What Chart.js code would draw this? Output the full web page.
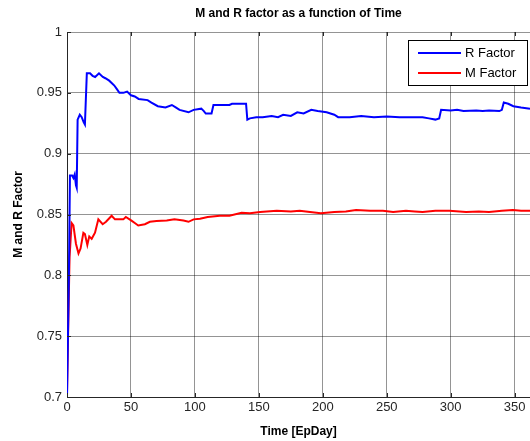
<!DOCTYPE html>
<html>
<head>
<meta charset="utf-8">
<script src="https://cdn.jsdelivr.net/npm/chart.js@4"></script>
<style>
    html, body { margin: 0; padding: 0; background: #fff; overflow: hidden; }
    #chartContainer { display: block; }
</style>
</head>
<body>
<canvas id="chartContainer" width="530" height="441"></canvas>
<script>
// R factor (time in EpDay, value)
const rTime = [0, 1.5, 2.3, 4, 5, 6, 7, 7.6, 8.3, 10, 11.5, 13, 14, 15.5, 18, 20, 22, 25, 28, 30,
    33, 37, 39, 41, 44, 47, 50, 53, 56, 63, 66, 71, 77, 82, 85, 88, 95, 99, 105, 107,
    108.5, 113, 114.5, 127, 129, 140, 141, 143, 148, 153, 160, 165, 169, 175, 180, 185, 191, 196, 203, 209,
    212, 221, 230, 240, 250, 260, 270, 278, 283, 288, 291, 292.5, 300, 305, 310, 320, 325, 330, 338, 340,
    341.5, 345, 349, 355, 362];
const rFactor = [0.700, 0.800, 0.882, 0.882, 0.880, 0.883, 0.874, 0.872, 0.928, 0.932, 0.930, 0.926, 0.924, 0.966, 0.966, 0.964, 0.963, 0.966, 0.963, 0.962,
    0.960, 0.956, 0.953, 0.950, 0.950, 0.951, 0.948, 0.947, 0.945, 0.944, 0.942, 0.939, 0.938, 0.940, 0.938, 0.936, 0.934, 0.936, 0.937, 0.935,
    0.933, 0.933, 0.940, 0.940, 0.941, 0.941, 0.928, 0.929, 0.930, 0.930, 0.931, 0.930, 0.932, 0.931, 0.934, 0.933, 0.936, 0.935, 0.934, 0.932,
    0.930, 0.930, 0.931, 0.930, 0.9305, 0.930, 0.930, 0.930, 0.929, 0.928, 0.929, 0.936, 0.9355, 0.936, 0.935, 0.9355, 0.935, 0.9355, 0.935, 0.936,
    0.942, 0.941, 0.939, 0.938, 0.937];

// M factor
const mTime = [0, 1, 2, 3.6, 5, 7, 9, 10.6, 12.8, 14, 15.9, 17.4, 19.3, 21.9, 24.5, 27.9, 30.5, 34.9, 37.5, 44,
    46, 50.4, 53, 55.7, 60.9, 64.8, 70, 78, 84, 91, 95, 99, 104, 110, 119.5, 127, 136.5, 143, 151, 164,
    175, 182, 190, 198.5, 209, 218, 226, 237, 247, 255, 265, 272, 278, 288, 299, 312, 322, 330, 340, 348.6,
    355, 362];
const mFactor = [0.703, 0.760, 0.815, 0.843, 0.841, 0.826, 0.818, 0.822, 0.835, 0.834, 0.825, 0.832, 0.830, 0.835, 0.846, 0.842, 0.844, 0.849, 0.846, 0.846,
    0.848, 0.845, 0.843, 0.841, 0.842, 0.844, 0.8446, 0.845, 0.846, 0.845, 0.844, 0.846, 0.8465, 0.848, 0.849, 0.849, 0.8515, 0.851, 0.852, 0.853,
    0.8525, 0.853, 0.852, 0.851, 0.852, 0.8525, 0.8537, 0.853, 0.853, 0.852, 0.853, 0.8525, 0.852, 0.853, 0.853, 0.852, 0.8525, 0.852, 0.853, 0.8537,
    0.853, 0.853];

const seriesLabels = ['R Factor', 'M Factor'];
const xTicks = [0, 50, 100, 150, 200, 250, 300, 350];
const yTickStep = 0.05;

const blueColor = '#0000ff';
const redColor = '#ff0000';
const fontFamily = '"Liberation Sans", Arial, sans-serif';

function toPoints(xs, ys) {
    return xs.map((x, i) => ({ x: x, y: ys[i] }));
}

// matlab style: ticks pointing inward + legend box inside the axes
const matlabAxes = {
    id: 'matlabAxes',
    afterDraw(chart) {
        const ctx = chart.ctx;
        const area = chart.chartArea;
        const xs = chart.scales.x;
        const ys = chart.scales.y;
        ctx.save();
        ctx.strokeStyle = '#262626';
        ctx.lineWidth = 1;
        ctx.beginPath();
        xs.ticks.forEach(t => {
            const px = Math.round(xs.getPixelForValue(t.value)) + 0.5;
            ctx.moveTo(px, area.bottom); ctx.lineTo(px, area.bottom - 4);
            ctx.moveTo(px, area.top); ctx.lineTo(px, area.top + 4);
        });
        ys.ticks.forEach(t => {
            const py = Math.round(ys.getPixelForValue(t.value)) + 0.5;
            ctx.moveTo(area.left, py); ctx.lineTo(area.left + 4, py);
        });
        ctx.stroke();

        // legend
        const bx = area.right - 122, by = area.top + 8, bw = 119, bh = 45;
        ctx.fillStyle = '#fff';
        ctx.fillRect(bx, by, bw, bh);
        ctx.strokeStyle = '#000';
        ctx.strokeRect(bx + 0.5, by + 0.5, bw, bh);
        ctx.font = '13px ' + fontFamily;
        ctx.textBaseline = 'middle';
        chart.data.datasets.forEach((ds, i) => {
            const ly = by + 13 + i * 20;
            ctx.strokeStyle = ds.borderColor;
            ctx.lineWidth = 2;
            ctx.beginPath();
            ctx.moveTo(bx + 10, ly); ctx.lineTo(bx + 53, ly);
            ctx.stroke();
            ctx.fillStyle = '#000';
            ctx.fillText(ds.label, bx + 57, ly);
        });
        ctx.restore();
    }
};

const chartContainer = document.getElementById('chartContainer');
const chart = new Chart(chartContainer, {
    type: 'line',
    data: {
        datasets: [
            {
                label: seriesLabels[0],
                data: toPoints(rTime, rFactor),
                borderColor: blueColor,
                borderWidth: 2,
                pointRadius: 0,
                tension: 0,
                fill: false
            },
            {
                label: seriesLabels[1],
                data: toPoints(mTime, mFactor),
                borderColor: redColor,
                borderWidth: 2,
                pointRadius: 0,
                tension: 0,
                fill: false
            }
        ]
    },
    options: {
        responsive: false,
        animation: false,
        devicePixelRatio: 1,
        layout: { padding: { left: 0, right: 0, top: 0, bottom: 0 } },
        plugins: {
            legend: { display: false },
            tooltip: { enabled: false },
            title: {
                display: true,
                text: 'M and R factor as a function of Time',
                fullSize: false,
                color: '#000',
                font: { family: fontFamily, size: 12, weight: 'bold' },
                padding: { top: 6, bottom: 11.6 }
            }
        },
        scales: {
            x: {
                type: 'linear',
                min: 0,
                max: 362,
                afterBuildTicks: s => { s.ticks = xTicks.map(v => ({ value: v })); },
                afterFit: s => { s.height = 44; s.paddingRight = 0; },
                ticks: {
                    padding: 3,
                    color: '#262626',
                    font: { family: fontFamily, size: 13 },
                    maxRotation: 0
                },
                grid: { color: 'rgba(0,0,0,0.42)', drawTicks: false },
                border: { color: '#262626', width: 1 },
                title: {
                    display: true,
                    text: 'Time [EpDay]',
                    color: '#000',
                    font: { family: fontFamily, size: 12, weight: 'bold' },
                    padding: { top: 0, bottom: 2 }
                }
            },
            y: {
                min: 0.7,
                max: 1,
                afterFit: s => { s.width = 67; },
                ticks: {
                    stepSize: yTickStep,
                    padding: 5,
                    color: '#262626',
                    font: { family: fontFamily, size: 13 },
                    callback: v => String(+v.toFixed(2))
                },
                grid: { color: 'rgba(0,0,0,0.42)', drawTicks: false },
                border: { color: '#262626', width: 1 },
                title: {
                    display: true,
                    text: 'M and R Factor',
                    color: '#000',
                    font: { family: fontFamily, size: 12, weight: 'bold' },
                    padding: { top: 11, bottom: 0 }
                }
            }
        }
    },
    plugins: [matlabAxes]
});
</script>
</body>
</html>
